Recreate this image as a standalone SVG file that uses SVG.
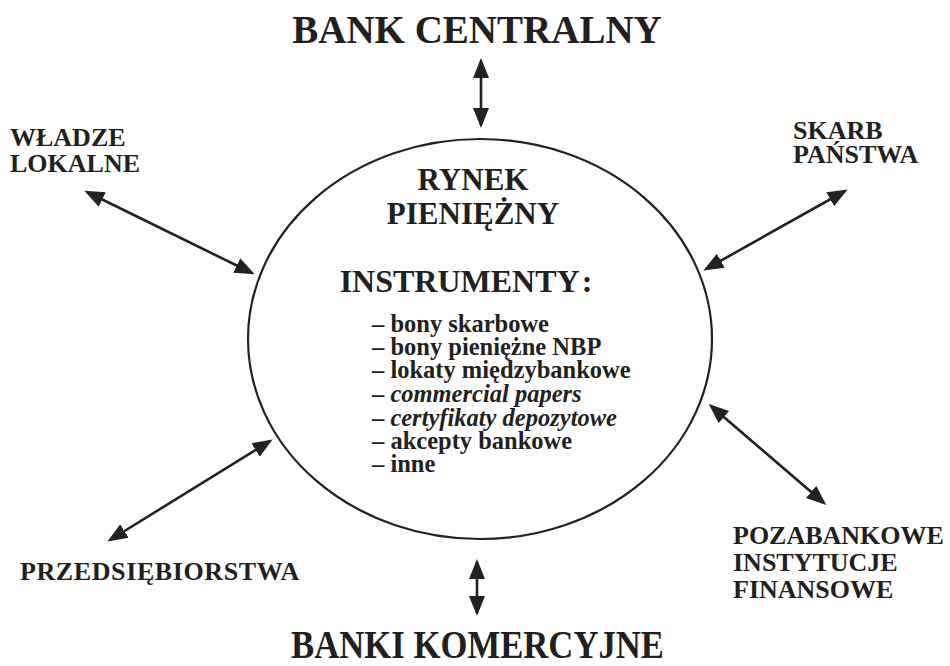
<svg xmlns="http://www.w3.org/2000/svg" width="950" height="666" viewBox="0 0 950 666">
<style>
text{font-family:"Liberation Serif","Times New Roman",serif;font-weight:bold;fill:#231f20}
.big{font-size:39px}
.lbl{font-size:26px}
.head{font-size:31px}
.item{font-size:24.5px}
.it{font-style:italic}
.conn line{stroke:#222;stroke-width:2.6;marker-start:url(#ah);marker-end:url(#ah)}
.ell{fill:none;stroke:#222;stroke-width:2.2}
</style>
<defs>
<marker id="ah" markerUnits="userSpaceOnUse" markerWidth="22" markerHeight="18" viewBox="0 0 22 18" refX="17" refY="9" orient="auto-start-reverse">
<path d="M0,1 L20,9 L0,17 z" fill="#222"/>
</marker>
</defs>
<rect width="950" height="666" fill="#fff"/>
<g id="bank-centralny"><text class="big" x="477" y="43" text-anchor="middle">BANK CENTRALNY</text></g>
<g id="banki-komercyjne"><text class="big" x="291" y="658" font-size="38" textLength="373" lengthAdjust="spacingAndGlyphs">BANKI KOMERCYJNE</text></g>
<g id="wladze-lokalne"><text class="lbl" x="10" y="146">WŁADZE</text><text class="lbl" x="10" y="172">LOKALNE</text></g>
<g id="skarb-panstwa"><text class="lbl" x="793" y="139">SKARB</text><text class="lbl" x="793" y="163">PAŃSTWA</text></g>
<g id="przedsiebiorstwa"><text class="lbl" x="20" y="580" letter-spacing="0.6">PRZEDSIĘBIORSTWA</text></g>
<g id="pozabankowe"><text class="lbl" x="733" y="544">POZABANKOWE</text><text class="lbl" x="733" y="571">INSTYTUCJE</text><text class="lbl" x="733" y="598">FINANSOWE</text></g>
<g id="rynek-pieniezny">
<ellipse class="ell" cx="480" cy="339" rx="232" ry="200"/>
<text class="head" x="473" y="190" text-anchor="middle">RYNEK</text>
<text class="head" x="473" y="224" text-anchor="middle">PIENIĘŻNY</text>
<text x="466" y="292" text-anchor="middle" font-size="32">INSTRUMENTY<tspan dx="5">:</tspan></text>
<text class="item" x="372" y="332">– bony skarbowe</text>
<text class="item" x="372" y="355">– bony pieniężne NBP</text>
<text class="item" x="372" y="378">– lokaty międzybankowe</text>
<text class="item" x="372" y="402">– <tspan class="it">commercial papers</tspan></text>
<text class="item" x="372" y="426">– <tspan class="it">certyfikaty depozytowe</tspan></text>
<text class="item" x="372" y="449">– akcepty bankowe</text>
<text class="item" x="372" y="472">– inne</text>
</g>
<g id="connectors" class="conn">
<line x1="481" y1="61" x2="481" y2="125"/>
<line x1="477" y1="562" x2="477" y2="613"/>
<line x1="87" y1="192" x2="252" y2="273"/>
<line x1="845" y1="191" x2="706" y2="269"/>
<line x1="270" y1="441" x2="110" y2="540"/>
<line x1="711" y1="406" x2="824" y2="503"/>
</g>
</svg>
